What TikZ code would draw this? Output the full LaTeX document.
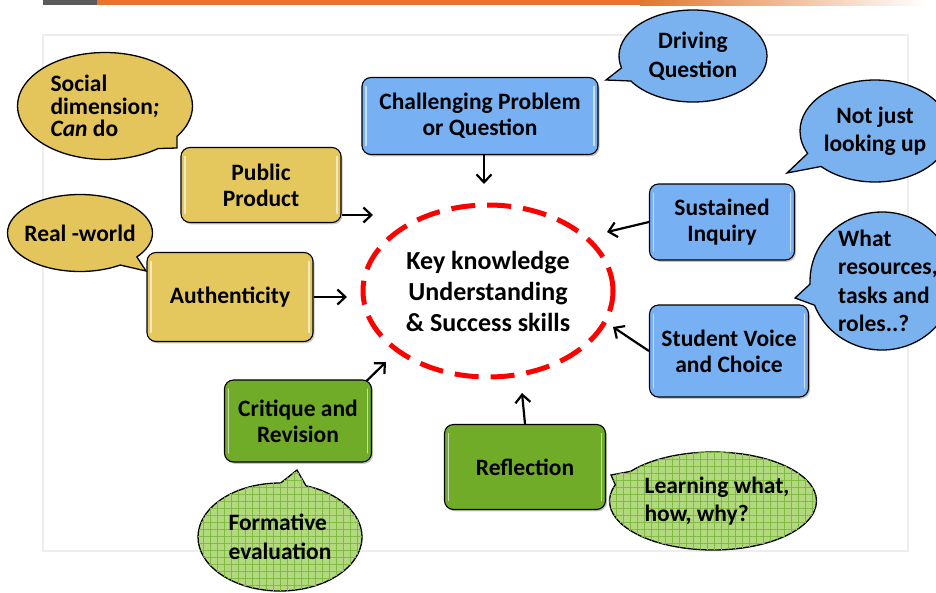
\documentclass[tikz,border=0pt]{standalone}
\usepackage{fontspec}
\setmainfont{Carlito}
\usetikzlibrary{shapes.geometric,shapes.callouts,shadows,patterns.meta,arrows.meta}

\definecolor{boxblue}{RGB}{120,176,244}
\definecolor{boxyellow}{RGB}{228,200,94}
\definecolor{boxgreen}{RGB}{112,172,40}
\definecolor{bubblue}{RGB}{122,178,240}
\definecolor{bubyellow}{RGB}{228,197,92}
\definecolor{bubgreen}{RGB}{178,216,128}
\definecolor{gridgreen}{RGB}{128,186,66}
\definecolor{barorange}{RGB}{226,118,46}
\definecolor{bargray}{RGB}{90,90,90}

\tikzset{
    topic/.style={
        draw=black,
        line width=1.1pt,
        rounded corners=9pt,
        align=center,
        font=\fontsize{23.5}{26}\selectfont\bfseries,
        drop shadow={opacity=0.45, shadow xshift=1.5pt, shadow yshift=-1.8pt},
        path picture={
            \draw[white, opacity=0.6, line width=1.4pt, line cap=round]
                ([xshift=4pt,yshift=-9pt]path picture bounding box.north west)
                -- ([xshift=4pt,yshift=9pt]path picture bounding box.south west);
            \draw[white, opacity=0.6, line width=1.4pt, line cap=round]
                ([xshift=-4pt,yshift=-9pt]path picture bounding box.north east)
                -- ([xshift=-4pt,yshift=9pt]path picture bounding box.south east);
        }
    },
    bluebox/.style={topic, fill=boxblue},
    yellowbox/.style={topic, fill=boxyellow},
    greenbox/.style={topic, fill=boxgreen},
    bubble/.style={
        ellipse callout,
        draw=black,
        line width=1.3pt,
        inner sep=0pt,
        callout pointer arc=18
    },
    bubtext/.style={
        align=left,
        inner sep=0pt,
        font=\fontsize{23.5}{28.5}\selectfont\bfseries
    },
    gridfill/.style={
        fill=bubgreen,
        postaction={pattern={Lines[distance=7pt,angle=0,line width=0.5pt]}, pattern color=gridgreen},
        postaction={pattern={Lines[distance=7pt,angle=90,line width=0.5pt]}, pattern color=gridgreen}
    },
    link/.style={-{Straight Barb[length=8pt,width=15pt,line width=2.2pt]}, line width=2.2pt}
}

\begin{document}
\begin{tikzpicture}[x=1pt, y=-1pt]

    \useasboundingbox (0,0) rectangle (936,592);

    \fill[bargray] (43,0) rectangle (97,5);
    \fill[barorange] (97,0) rectangle (640,5);
    \shade[left color=barorange, right color=white] (640,0) rectangle (925,5);
    \draw[black!7, line width=1.5pt] (43,35) rectangle (908,551);

    \node[draw=red,
        ellipse,
        dash pattern=on 24pt off 12pt,
        line width=5pt,
        minimum width=250pt,
        minimum height=172pt,
        inner sep=0pt,
        align=center,
        font=\fontsize{26}{31}\selectfont\bfseries
    ] (key) at (488,291){Key knowledge\\Understanding\\\& Success skills};

    \node[bluebox, minimum width=236pt, minimum height=77pt] (chal) at (480,116)
        {Challenging Problem\\or Question};
    \node[yellowbox, minimum width=160pt, minimum height=75pt] (pub) at (261,185)
        {Public\\Product};
    \node[yellowbox, minimum width=166pt, minimum height=89pt] (auth) at (230,297)
        {Authenticity};
    \node[bluebox, minimum width=145pt, minimum height=76pt] (sust) at (722,222)
        {Sustained\\Inquiry};
    \node[bluebox, minimum width=159pt, minimum height=92pt] (voice) at (729,351)
        {Student Voice\\and Choice};
    \node[greenbox, minimum width=147pt, minimum height=82pt] (crit) at (298,421)
        {Critique and\\Revision};
    \node[greenbox, minimum width=161pt, minimum height=85pt] (refl) at (525,467)
        {Reflection};

    \node[bubble,
        fill=bubyellow,
        minimum width=175pt,
        minimum height=107pt,
        callout absolute pointer={(177,148)},
        label={[bubtext, font=\fontsize{23.5}{22.5}\selectfont\bfseries, name=socialtext]center:{Social\\dimension\textit{;}\\\textit{Can} do}}
    ] (social) at (105,106){};
    \node[bubble,
        fill=bubyellow,
        minimum width=145pt,
        minimum height=77pt,
        callout absolute pointer={(146,271)},
        label={[bubtext, name=realtext]center:{Real -world}}
    ] (real) at (80,233){};
    \node[bubble,
        fill=bubblue,
        minimum width=148pt,
        minimum height=92pt,
        callout absolute pointer={(606,80)},
        label={[bubtext, align=center, name=drivetext]center:{Driving\\Question}}
    ] (drive) at (693,56){};
    \node[bubble,
        fill=bubblue,
        minimum width=150pt,
        minimum height=102pt,
        callout absolute pointer={(787,173)},
        label={[bubtext, align=center, name=lookuptext]center:{Not just\\looking up}}
    ] (lookup) at (875,131){};
    \node[bubble,
        fill=bubblue,
        minimum width=144pt,
        minimum height=138pt,
        callout absolute pointer={(795,298)},
        label={[bubtext, name=restext, xshift=6pt]center:{What\\resources,\\tasks and\\roles..?}}
    ] (res) at (882,281){};
    \node[bubble,
        gridfill,
        minimum width=164pt,
        minimum height=108pt,
        callout absolute pointer={(297,470)},
        label={[bubtext, name=formtext]center:{Formative\\evaluation}}
    ] (form) at (280,537){};
    \node[bubble,
        gridfill,
        minimum width=207pt,
        minimum height=98pt,
        callout absolute pointer={(611,475)},
        label={[bubtext, name=learntext, xshift=4pt]center:{Learning what,\\how, why?}}
    ] (learn) at (713,501){};

    \coordinate (tipchal) at (484,184);
    \coordinate (tippub) at (373,215);
    \coordinate (tipauth) at (347,297);
    \coordinate (tipsust) at (607,232);
    \coordinate (tipvoice) at (613,327);
    \coordinate (tipcrit) at (386,362);
    \coordinate (tiprefl) at (522,393);

    \draw[link] (chal.south -| tipchal) -- (tipchal);
    \draw[link] (pub.east |- tippub) -- (tippub);
    \draw[link] (auth.east) -- (tipauth);
    \draw[link] (sust.west) -- (tipsust);
    \draw[link] (voice.west) -- (tipvoice);
    \draw[link] ([xshift=-6pt,yshift=-2pt]crit.north east) -- (tipcrit);
    \draw[link] (refl.north) -- (tiprefl);

\end{tikzpicture}
\end{document}
